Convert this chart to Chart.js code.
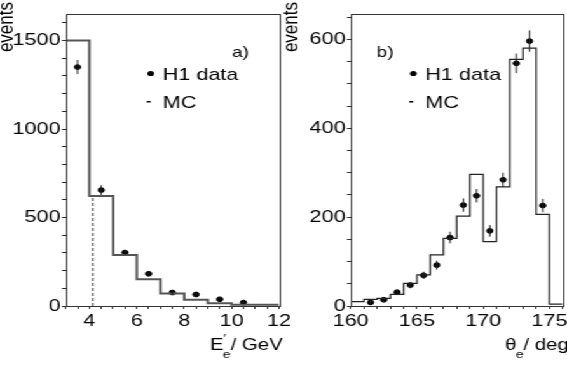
<!DOCTYPE html>
<html>
<head>
<meta charset="utf-8">
<title>H1 - E'e y theta_e</title>
<script src="https://cdn.jsdelivr.net/npm/chart.js@4.4.0/dist/chart.umd.min.js"></script>
<style>
html, body { margin: 0; padding: 0; background: #fff; overflow: hidden; }
/* the scanned figure is stretched sideways, so we draw narrow and stretch */
#wrap { position: relative; width: 446px; height: 369px; transform: scaleX(1.2713); transform-origin: 0 0; }
#wrap canvas { position: absolute; left: 0; top: 0; }
</style>
</head>
<body>
<div id="wrap">
  <canvas id="graficoE" width="446" height="369"></canvas>
  <canvas id="graficoTheta" width="446" height="369"></canvas>
</div>
<script>
// Panel a) energia del electron dispersado
const bordesE = [3, 4, 5, 6, 7, 8, 9, 10, 11, 12];
const mcE = [1500, 622, 288, 151, 70, 36, 16, 7, 7];
const xDatosE = [3.5, 4.5, 5.5, 6.5, 7.5, 8.5, 9.5, 10.5];
const datosE = [1350, 655, 302, 182, 76, 65, 38, 19];
const errE = [40, 27, 15, 10, 7, 7, 5, 4];
const corteE = 4.14;

// Panel b) angulo polar del electron
const bordesTheta = [160, 161, 162, 163, 164, 165, 166, 167, 168, 169, 170, 171, 172, 173, 174, 175, 176];
const mcTheta = [10, 15, 17, 26, 51, 70, 115, 152, 202, 296, 145, 268, 555, 580, 206, 4];
const xDatosTheta = [161.5, 162.5, 163.5, 164.5, 165.5, 166.5, 167.5, 168.5, 169.5, 170.5, 171.5, 172.5, 173.5, 174.5];
const datosTheta = [8, 14, 31, 47, 69, 92, 154, 227, 248, 169, 284, 546, 596, 226];
const errTheta = [5, 5, 6, 7, 8, 10, 13, 15, 15, 13, 16, 22, 24, 15];

const S = 567 / 446;          // estiramiento horizontal
const px = v => v / S;        // pixel final -> pixel de canvas
const FUENTE = '"Liberation Sans", Arial, Helvetica, sans-serif';

function pasos(bordes, valores) {
    return bordes.map((b, i) => ({ x: b, y: valores[Math.min(i, valores.length - 1)] }));
}

// Dibuja marco, barras de error, leyenda y titulos
const decoracion = {
    id: 'decoracion',
    afterDatasetsDraw(chart, args, o) {
        const ctx = chart.ctx;
        const xs = chart.scales.x, ys = chart.scales.y;
        ctx.save();
        ctx.strokeStyle = '#222';
        ctx.lineWidth = 1;
        o.xs.forEach((x, i) => {
            const cx = xs.getPixelForValue(x);
            ctx.beginPath();
            ctx.moveTo(cx, ys.getPixelForValue(o.ys[i] - o.err[i]));
            ctx.lineTo(cx, ys.getPixelForValue(o.ys[i] + o.err[i]));
            ctx.stroke();
        });
        ctx.restore();
    },
    afterDraw(chart, args, o) {
        const ctx = chart.ctx;
        const a = chart.chartArea;
        ctx.save();
        ctx.strokeStyle = '#333';
        ctx.lineWidth = 1;
        ctx.strokeRect(Math.round(a.left) + 0.5, Math.round(a.top) + 0.5,
            Math.round(a.right - a.left), Math.round(a.bottom - a.top));

        ctx.fillStyle = '#000';
        ctx.textBaseline = 'alphabetic';
        ctx.textAlign = 'left';
        // etiqueta del panel
        ctx.font = '15px ' + FUENTE;
        ctx.fillText(o.panel, px(o.panelX), 57);
        // leyenda
        ctx.font = '17px ' + FUENTE;
        ctx.beginPath();
        ctx.arc(px(o.legX), 73.5, 2.6, 0, Math.PI * 2);
        ctx.fill();
        ctx.fillText('H1 data', px(o.legX + 12), 80);
        ctx.fillRect(px(o.legX - 4), 101, px(4), 1.5);
        ctx.fillText('MC', px(o.legX + 12), 108);
        // titulo eje x
        ctx.font = '16px ' + FUENTE;
        ctx.fillText(o.xSimbolo, px(o.xTitX), 350);
        let x = px(o.xTitX) + ctx.measureText(o.xSimbolo).width;
        ctx.font = '11px ' + FUENTE;
        ctx.fillText('e', x - 0.5, 358);
        if (o.prima) ctx.fillText('\u2032', x, 342);
        x += ctx.measureText('e').width - 0.5;
        ctx.font = '16px ' + FUENTE;
        ctx.fillText('/ ' + o.xUnidad, x, 350);
        // titulo eje y
        ctx.translate(px(o.yTitX), 2);
        ctx.rotate(-Math.PI / 2);
        ctx.textAlign = 'right';
        ctx.font = '17px ' + FUENTE;
        ctx.fillText('events', 0, 0);
        ctx.restore();
    }
};

function crearPanel(canvasId, cfg) {
    const canvas = document.getElementById(canvasId);
    const fuenteTicks = { family: FUENTE, size: 17 };
    return new Chart(canvas, {
        type: 'scatter',
        data: {
            datasets: [{
                type: 'line',
                data: pasos(cfg.bordes, cfg.mc),
                stepped: 'before',
                borderColor: cfg.colorMC,
                borderWidth: cfg.anchoMC,
                pointRadius: 0,
                fill: false
            }, {
                type: 'line',
                data: cfg.corte,
                borderColor: '#333',
                borderWidth: 1,
                borderDash: [3, 2],
                pointRadius: 0,
                fill: false
            }, {
                data: cfg.xs.map((x, i) => ({ x: x, y: cfg.ys[i] })),
                backgroundColor: '#000',
                borderColor: '#000',
                pointRadius: 2.4,
                pointHoverRadius: 2.4
            }]
        },
        options: {
            responsive: false,
            animation: false,
            devicePixelRatio: 1,
            layout: { padding: { top: 14, right: cfg.padDer, left: 0, bottom: 0 } },
            plugins: {
                legend: { display: false },
                tooltip: { enabled: false },
                decoracion: cfg.deco
            },
            scales: {
                x: {
                    type: 'linear',
                    min: cfg.xMin, max: cfg.xMax,
                    border: { display: false },
                    grid: { drawOnChartArea: false, tickLength: 3, tickColor: '#333' },
                    ticks: {
                        stepSize: cfg.xPaso, autoSkip: false, maxRotation: 0, includeBounds: false,
                        font: fuenteTicks, color: '#000', padding: 2,
                        callback: v => (Math.abs(v % cfg.xEtiq) < 1e-6 ? String(v) : '')
                    },
                    afterFit(s) { s.height = 63; s.paddingLeft = 0; s.paddingRight = 0; }
                },
                y: {
                    min: 0, max: cfg.yMax,
                    border: { display: false },
                    grid: { drawOnChartArea: false, tickLength: 3, tickColor: '#333' },
                    ticks: {
                        stepSize: cfg.yPaso, autoSkip: false, includeBounds: false,
                        font: fuenteTicks, color: '#000', padding: 1,
                        callback: v => (v % cfg.yEtiq === 0 ? String(v) : '')
                    },
                    afterFit(s) { s.width = cfg.anchoY; s.paddingTop = 0; s.paddingBottom = 0; }
                }
            }
        },
        plugins: [decoracion]
    });
}

crearPanel('graficoE', {
    bordes: bordesE, mc: mcE, xs: xDatosE, ys: datosE,
    corte: [{ x: corteE, y: 0 }, { x: corteE, y: mcE[1] }],
    colorMC: '#555', anchoMC: 2,
    xMin: 3, xMax: 12, xPaso: 0.5, xEtiq: 2,
    yMax: 1650, yPaso: 100, yEtiq: 500,
    anchoY: px(65.7), padDer: 446 - px(279),
    deco: { xs: xDatosE, ys: datosE, err: errE, panel: 'a)', panelX: 232, legX: 150.7,
            xSimbolo: 'E', prima: true, xUnidad: 'GeV', xTitX: 210, yTitX: 13 }
});

crearPanel('graficoTheta', {
    bordes: bordesTheta, mc: mcTheta, xs: xDatosTheta, ys: datosTheta,
    corte: [],
    colorMC: '#222', anchoMC: 1.2,
    xMin: 160, xMax: 176, xPaso: 1, xEtiq: 5,
    yMax: 657, yPaso: 50, yEtiq: 200,
    anchoY: px(350.7), padDer: 446 - px(564),
    deco: { xs: xDatosTheta, ys: datosTheta, err: errTheta, panel: 'b)', panelX: 376.7, legX: 413.3,
            xSimbolo: '\u03b8', prima: false, xUnidad: 'deg', xTitX: 505, yTitX: 298 }
});
</script>
</body>
</html>
